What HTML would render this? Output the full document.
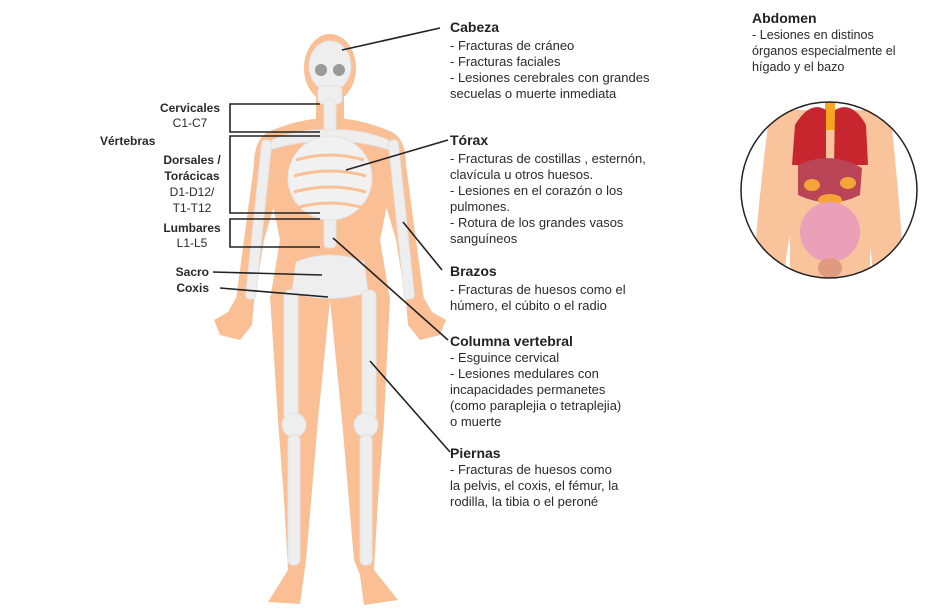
<!DOCTYPE html>
<html><head><meta charset="utf-8"><style>
html,body{margin:0;padding:0;background:#fff;width:927px;height:613px;overflow:hidden}
svg{display:block}
text{font-family:"Liberation Sans",sans-serif;font-size:13px;fill:#2a2a2a}
.b{font-weight:bold;font-size:14px;fill:#222}
.lb{font-weight:bold;font-size:12px}
.ln{font-size:12px}
.ab{font-size:12.6px}
</style></head><body>
<svg width="927" height="613" viewBox="0 0 927 613" xmlns="http://www.w3.org/2000/svg">
<g fill="#fabf94">
  <ellipse cx="330" cy="68" rx="26" ry="34"/>
  <rect x="316" y="95" width="28" height="35"/>
  <path d="M268 132 Q300 118 330 118 Q360 118 392 132 L394 170 L380 240 L390 300 L270 300 L280 240 L266 170 Z"/>
  <path d="M268 132 Q254 140 254 165 L244 240 L236 300 L254 302 L264 240 L280 185 Z"/>
  <path d="M392 132 Q406 140 406 165 L416 240 L424 300 L406 302 L396 240 L380 185 Z"/>
  <path d="M236 298 L254 300 L252 325 L240 340 L220 335 L214 320 L228 312 Z"/>
  <path d="M424 298 L406 300 L408 325 L420 340 L440 335 L446 320 L432 312 Z"/>
  <path d="M270 296 L330 300 L326 340 L318 420 L306 560 L304 575 L300 604 L268 602 L288 570 L284 500 L278 420 Z"/>
  <path d="M390 296 L330 300 L334 340 L342 420 L354 560 L360 575 L364 605 L398 600 L374 570 L378 500 L384 420 Z"/>
</g>
<g fill="#eeeeee" stroke="#e2e2e2" stroke-width="1">
  <ellipse cx="330" cy="66" rx="21" ry="25"/>
  <rect x="318" y="86" width="24" height="18" rx="5"/>
  <rect x="324" y="100" width="12" height="148" rx="4"/>
  <path d="M272 140 Q300 128 330 130 Q360 128 388 140 L390 150 Q360 140 330 142 Q300 140 270 150 Z"/>
  <ellipse cx="330" cy="178" rx="42" ry="42" fill="#f1f1f1"/>
  <rect x="262" y="140" width="10" height="160" rx="4" transform="rotate(6 267 140)"/>
  <rect x="388" y="140" width="10" height="160" rx="4" transform="rotate(-6 393 140)"/>
  <path d="M296 262 Q330 248 364 262 L368 292 Q330 305 292 292 Z"/>
  <rect x="284" y="290" width="14" height="130" rx="6"/>
  <rect x="362" y="290" width="14" height="130" rx="6"/>
  <circle cx="294" cy="425" r="12"/>
  <circle cx="366" cy="425" r="12"/>
  <rect x="288" y="435" width="12" height="130" rx="5"/>
  <rect x="360" y="435" width="12" height="130" rx="5"/>
</g>
<g fill="#9a9a9a"><ellipse cx="321" cy="70" rx="6" ry="6"/><ellipse cx="339" cy="70" rx="6" ry="6"/></g>
<g fill="none" stroke="#fabf94" stroke-width="3">
  <path d="M296 160 Q330 150 364 160 M294 176 Q330 166 366 176 M294 192 Q330 182 366 192 M296 208 Q330 198 364 208"/>
</g>
<g stroke="#222" stroke-width="1.6" fill="none">
  <line x1="342" y1="50" x2="440" y2="28"/>
  <line x1="346" y1="170" x2="448" y2="140"/>
  <line x1="403" y1="222" x2="442" y2="270"/>
  <line x1="333" y1="238" x2="448" y2="340"/>
  <line x1="370" y1="361" x2="450" y2="452"/>
  <polyline points="320,104 230,104 230,132 320,132"/>
  <polyline points="320,136 230,136 230,213 320,213"/>
  <polyline points="320,219 230,219 230,247 320,247"/>
  <line x1="213" y1="272" x2="322" y2="275"/>
  <line x1="220" y1="288" x2="328" y2="297"/>
</g>
<g text-anchor="middle">
<text x="190" y="112" class="lb">Cervicales</text>
<text x="190" y="127" class="ln">C1-C7</text>
<text x="192" y="164" class="lb">Dorsales /</text>
<text x="192" y="180" class="lb">Torácicas</text>
<text x="192" y="196" class="ln">D1-D12/</text>
<text x="192" y="212" class="ln">T1-T12</text>
<text x="192" y="232" class="lb">Lumbares</text>
<text x="192" y="247" class="ln">L1-L5</text>
</g>
<text x="100" y="145" class="lb">Vértebras</text>
<text x="209" y="276" class="lb" text-anchor="end">Sacro</text>
<text x="209" y="292" class="lb" text-anchor="end">Coxis</text>
<text x="450" y="32" class="b">Cabeza</text>
<text x="450" y="50">- Fracturas de cráneo</text>
<text x="450" y="66">- Fracturas faciales</text>
<text x="450" y="82">- Lesiones cerebrales con grandes</text>
<text x="450" y="98">secuelas o muerte inmediata</text>
<text x="450" y="145" class="b">Tórax</text>
<text x="450" y="163">- Fracturas de costillas , esternón,</text>
<text x="450" y="179">clavícula u otros huesos.</text>
<text x="450" y="195">- Lesiones en el corazón o los</text>
<text x="450" y="211">pulmones.</text>
<text x="450" y="227">- Rotura de los grandes vasos</text>
<text x="450" y="243">sanguíneos</text>
<text x="450" y="276" class="b">Brazos</text>
<text x="450" y="294">- Fracturas de huesos como el</text>
<text x="450" y="310">húmero, el cúbito o el radio</text>
<text x="450" y="346" class="b">Columna vertebral</text>
<text x="450" y="362">- Esguince cervical</text>
<text x="450" y="378">- Lesiones medulares con</text>
<text x="450" y="394">incapacidades permanetes</text>
<text x="450" y="410">(como paraplejia o tetraplejia)</text>
<text x="450" y="426">o muerte</text>
<text x="450" y="458" class="b">Piernas</text>
<text x="450" y="474">- Fracturas de huesos como</text>
<text x="450" y="490">la pelvis, el coxis, el fémur, la</text>
<text x="450" y="506">rodilla, la tibia o el peroné</text>
<text x="752" y="23" class="b">Abdomen</text>
<text x="752" y="39" class="ab">- Lesiones en distinos</text>
<text x="752" y="55" class="ab">órganos especialmente el</text>
<text x="752" y="71" class="ab">hígado y el bazo</text>
<defs><clipPath id="c"><circle cx="829" cy="190" r="88"/></clipPath></defs>
<g clip-path="url(#c)">
  <rect x="740" y="100" width="180" height="180" fill="#fff"/>
  <path d="M770 110 L890 110 Q900 200 905 290 L875 290 Q868 220 860 200 L800 200 Q790 220 782 290 L752 290 Q758 200 770 110 Z" fill="#f9c39b"/>
  <rect x="790" y="110" width="80" height="180" fill="#f9c39b"/>
  <rect x="825" y="100" width="10" height="30" fill="#f6a623"/>
  <path d="M795 125 Q810 100 826 110 L826 165 L792 165 Z" fill="#c8262f"/>
  <path d="M835 110 Q852 100 866 125 L868 165 L834 165 Z" fill="#c8262f"/>
  <path d="M798 165 Q830 150 862 168 L860 195 Q830 210 798 195 Z" fill="#b94456"/>
  <ellipse cx="812" cy="185" rx="8" ry="6" fill="#f5a43a"/>
  <ellipse cx="848" cy="183" rx="8" ry="6" fill="#f5a43a"/>
  <ellipse cx="830" cy="200" rx="12" ry="6" fill="#f5a43a"/>
  <ellipse cx="830" cy="232" rx="30" ry="30" fill="#eaa0b8"/>
  <ellipse cx="830" cy="268" rx="12" ry="10" fill="#e09a80"/>
</g>
<circle cx="829" cy="190" r="88" fill="none" stroke="#222" stroke-width="1.5"/>
</svg>
</body></html>
